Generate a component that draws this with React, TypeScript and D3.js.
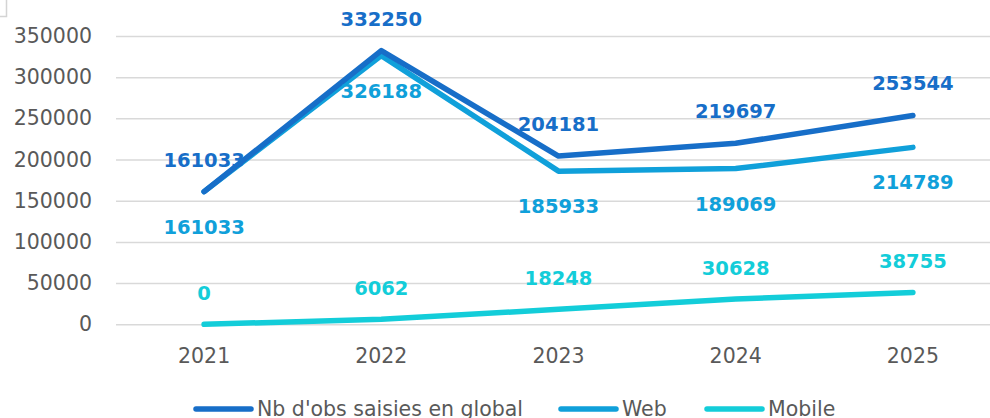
import React from "react";
import * as d3 from "d3";

const years = ["2021", "2022", "2023", "2024", "2025"];
const globalObs = [161033, 332250, 204181, 219697, 253544];
const webObs = [161033, 326188, 185933, 189069, 214789];
const mobileObs = [0, 6062, 18248, 30628, 38755];
const yTicks = [0, 50000, 100000, 150000, 200000, 250000, 300000, 350000];

const series = [
  { name: "Nb d'obs saisies en global", values: globalObs, color: "#176ec8", labelDy: -32 },
  { name: "Web", values: webObs, color: "#10a0da", labelDy: 35 },
  { name: "Mobile", values: mobileObs, color: "#13cdd9", labelDy: -31 },
];

const W = 990;
const H = 418;
const font = "'DejaVu Sans', sans-serif";

export default function App() {
  const svgRef = React.useRef<SVGSVGElement>(null);

  React.useEffect(() => {
    const svg = d3.select(svgRef.current);
    svg.selectAll("*").remove();

    const x = d3.scaleBand().domain(years).range([115.5, 1001.5]);
    const y = d3.scaleLinear().domain([0, 350000]).range([324.3, 36]);
    const cx = (d: string) => (x(d) as number) + x.bandwidth() / 2;

    // little corner box left over top-left
    svg.append("path")
      .attr("d", "M0,16.5H6.5V0")
      .attr("fill", "none")
      .attr("stroke", "#d4d4d4")
      .attr("stroke-width", 1.5);

    // grid + y labels
    const yAxis = d3.axisLeft(y).tickValues(yTicks).tickSize(-(W - 116)).tickPadding(24).tickFormat(d3.format("d"));
    const yg = svg.append("g").attr("transform", "translate(116,0)").call(yAxis);
    yg.select(".domain").remove();
    yg.selectAll("line").attr("stroke", "#d9d9d9").attr("stroke-width", 1.5);
    yg.selectAll("text")
      .attr("fill", "#595959")
      .attr("font-family", font)
      .attr("font-size", 20.5);

    // x labels
    const xAxis = d3.axisBottom(x).tickSize(0).tickPadding(0);
    const xg = svg.append("g").attr("transform", "translate(0,363)").call(xAxis);
    xg.select(".domain").remove();
    xg.selectAll("text")
      .attr("fill", "#595959")
      .attr("dy", "0")
      .attr("font-family", font)
      .attr("font-size", 20.5);

    const line = d3.line<number>()
      .x((_, i) => cx(years[i]))
      .y((d) => y(d));

    // draw mobile first, global last
    [...series].reverse().forEach((s) => {
      svg.append("path")
        .datum(s.values)
        .attr("d", line)
        .attr("fill", "none")
        .attr("stroke", s.color)
        .attr("stroke-width", 5.5)
        .attr("stroke-linecap", "round")
        .attr("stroke-linejoin", "round");
    });

    series.forEach((s) => {
      svg.append("g")
        .selectAll("text")
        .data(s.values)
        .enter()
        .append("text")
        .attr("x", (_, i) => cx(years[i]))
        .attr("y", (d) => y(d) + s.labelDy)
        .attr("dy", "0.36em")
        .attr("text-anchor", "middle")
        .attr("fill", s.color)
        .attr("font-family", font)
        .attr("font-weight", "bold")
        .attr("font-size", 19.5)
        .text((d) => String(d));
    });

    // legend (text runs off the bottom edge like in the original)
    const legendX = [194, 559, 705];
    const lg = svg.append("g");
    series.forEach((s, i) => {
      lg.append("line")
        .attr("x1", legendX[i] + 2)
        .attr("x2", legendX[i] + 57)
        .attr("y1", 409)
        .attr("y2", 409)
        .attr("stroke", s.color)
        .attr("stroke-width", 5.5)
        .attr("stroke-linecap", "round");
      lg.append("text")
        .attr("x", legendX[i] + 63)
        .attr("y", 416)
        .attr("fill", "#595959")
        .attr("font-family", font)
        .attr("font-size", 20.5)
        .text(s.name);
    });
  }, []);

  return (
    <svg
      ref={svgRef}
      width={W}
      height={H}
      style={{ position: "absolute", left: 0, top: 0, background: "#fff" }}
    />
  );
}
